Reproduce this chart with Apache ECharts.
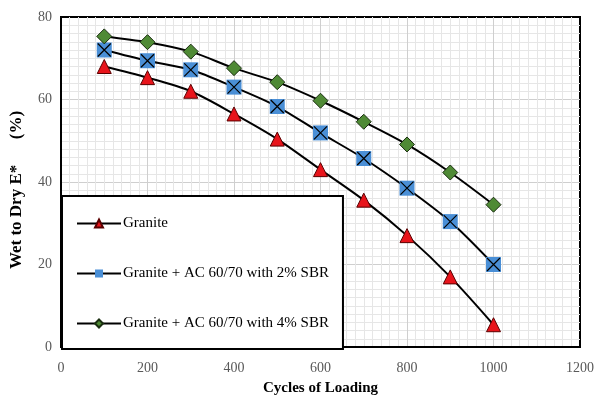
<!DOCTYPE html>
<html>
<head>
<meta charset="utf-8">
<script src="https://cdn.jsdelivr.net/npm/echarts@6/dist/echarts.min.js"></script>
<style>
  html, body { margin: 0; padding: 0; background: #fff; }
  #chart { width: 597px; height: 401px; }
</style>
</head>
<body>
<div id="chart"></div>
<script>
// 数据
const cycles = [100, 200, 300, 400, 500, 600, 700, 800, 900, 1000];
const granite = [68, 65.3, 62, 56.5, 50.4, 43, 35.6, 27, 17, 5.4];
const sbr2 = [72, 69.4, 67.2, 63, 58.3, 51.9, 45.7, 38.5, 30.4, 20];
const sbr4 = [75.3, 73.9, 71.6, 67.6, 64.2, 59.7, 54.6, 49.1, 42.3, 34.5];
const seriesNames = ['Granite', 'Granite + AC 60/70 with 2% SBR', 'Granite + AC 60/70 with 4% SBR'];

const pairs = arr => cycles.map((c, i) => [c, arr[i]]);

const serif = '"Liberation Serif", "DejaVu Serif", serif';
const labelColor = '#595959';

const chart = echarts.init(document.getElementById('chart'));

const option = {
  backgroundColor: '#fff',
  animation: false,
  grid: {
    left: 61, right: 17, top: 17, bottom: 52,
    show: true,
    borderColor: '#000',
    borderWidth: 2
  },
  legend: {
    orient: 'vertical',
    left: 62,
    top: 196,
    data: seriesNames,
    backgroundColor: '#fff',
    borderColor: '#000',
    borderWidth: 2,
    padding: [20, 14, 18, 14],
    itemGap: 35,
    itemWidth: 44,
    itemHeight: 10,
    textStyle: { fontFamily: serif, fontSize: 15, color: '#000', padding: [0, 0, 0, -3] }
  },
  xAxis: {
    type: 'value',
    min: 0, max: 1200, interval: 200,
    name: 'Cycles of Loading',
    nameLocation: 'middle',
    nameGap: 34,
    nameTextStyle: { fontFamily: serif, fontSize: 15, fontWeight: 'bold', color: '#000' },
    axisLine: { lineStyle: { color: '#000', width: 2 } },
    axisTick: { show: false },
    axisLabel: { fontFamily: serif, fontSize: 14, color: labelColor, margin: 14, formatter: v => String(v) },
    splitLine: { showMinLine: false, showMaxLine: false, lineStyle: { color: '#cfcfcf', width: 1 } },
    minorTick: { show: false, splitNumber: 10 },
    minorSplitLine: { show: true, lineStyle: { color: '#e6e6e6', width: 1 } }
  },
  yAxis: {
    type: 'value',
    min: 0, max: 80, interval: 20,
    name: 'Wet to Dry E*      (%)',
    nameLocation: 'middle',
    nameGap: 36,
    nameTextStyle: { fontFamily: serif, fontSize: 17, fontWeight: 'bold', color: '#000', padding: [0, 16, 0, 0] },
    axisLine: { show: true, lineStyle: { color: '#000', width: 2 } },
    axisTick: { show: false },
    axisLabel: { fontFamily: serif, fontSize: 14, color: labelColor, margin: 9 },
    splitLine: { showMinLine: false, showMaxLine: false, lineStyle: { color: '#cfcfcf', width: 1 } },
    minorTick: { show: false, splitNumber: 10 },
    minorSplitLine: { show: true, lineStyle: { color: '#e6e6e6', width: 1 } }
  },
  series: [
    {
      name: seriesNames[0],
      type: 'line',
      smooth: 0.3,
      data: pairs(granite),
      symbol: 'triangle',
      symbolSize: 14,
      lineStyle: { color: '#000', width: 2 },
      itemStyle: { color: '#e8141b', borderColor: '#5a0000', borderWidth: 1 },
      z: 3
    },
    {
      name: seriesNames[1],
      type: 'line',
      smooth: 0.3,
      data: pairs(sbr2),
      symbol: 'rect',
      symbolSize: 15,
      lineStyle: { color: '#000', width: 2 },
      itemStyle: { color: '#4a8fd6', borderColor: '#4a8fd6', borderWidth: 0 },
      z: 3
    },
    {
      // 方块上的X标记
      name: 'sbr2-x',
      type: 'line',
      data: pairs(sbr2),
      symbol: 'path://M0,0L10,10M10,0L0,10',
      symbolSize: 13,
      lineStyle: { width: 0, opacity: 0 },
      itemStyle: { color: 'none', borderColor: '#000', borderWidth: 1.2 },
      silent: true,
      z: 4
    },
    {
      name: seriesNames[2],
      type: 'line',
      smooth: 0.3,
      data: pairs(sbr4),
      symbol: 'diamond',
      symbolSize: 15,
      lineStyle: { color: '#000', width: 2 },
      itemStyle: { color: '#4f8a35', borderColor: '#1a2e10', borderWidth: 1 },
      z: 3
    }
  ]
};

chart.setOption(option);
</script>
</body>
</html>
